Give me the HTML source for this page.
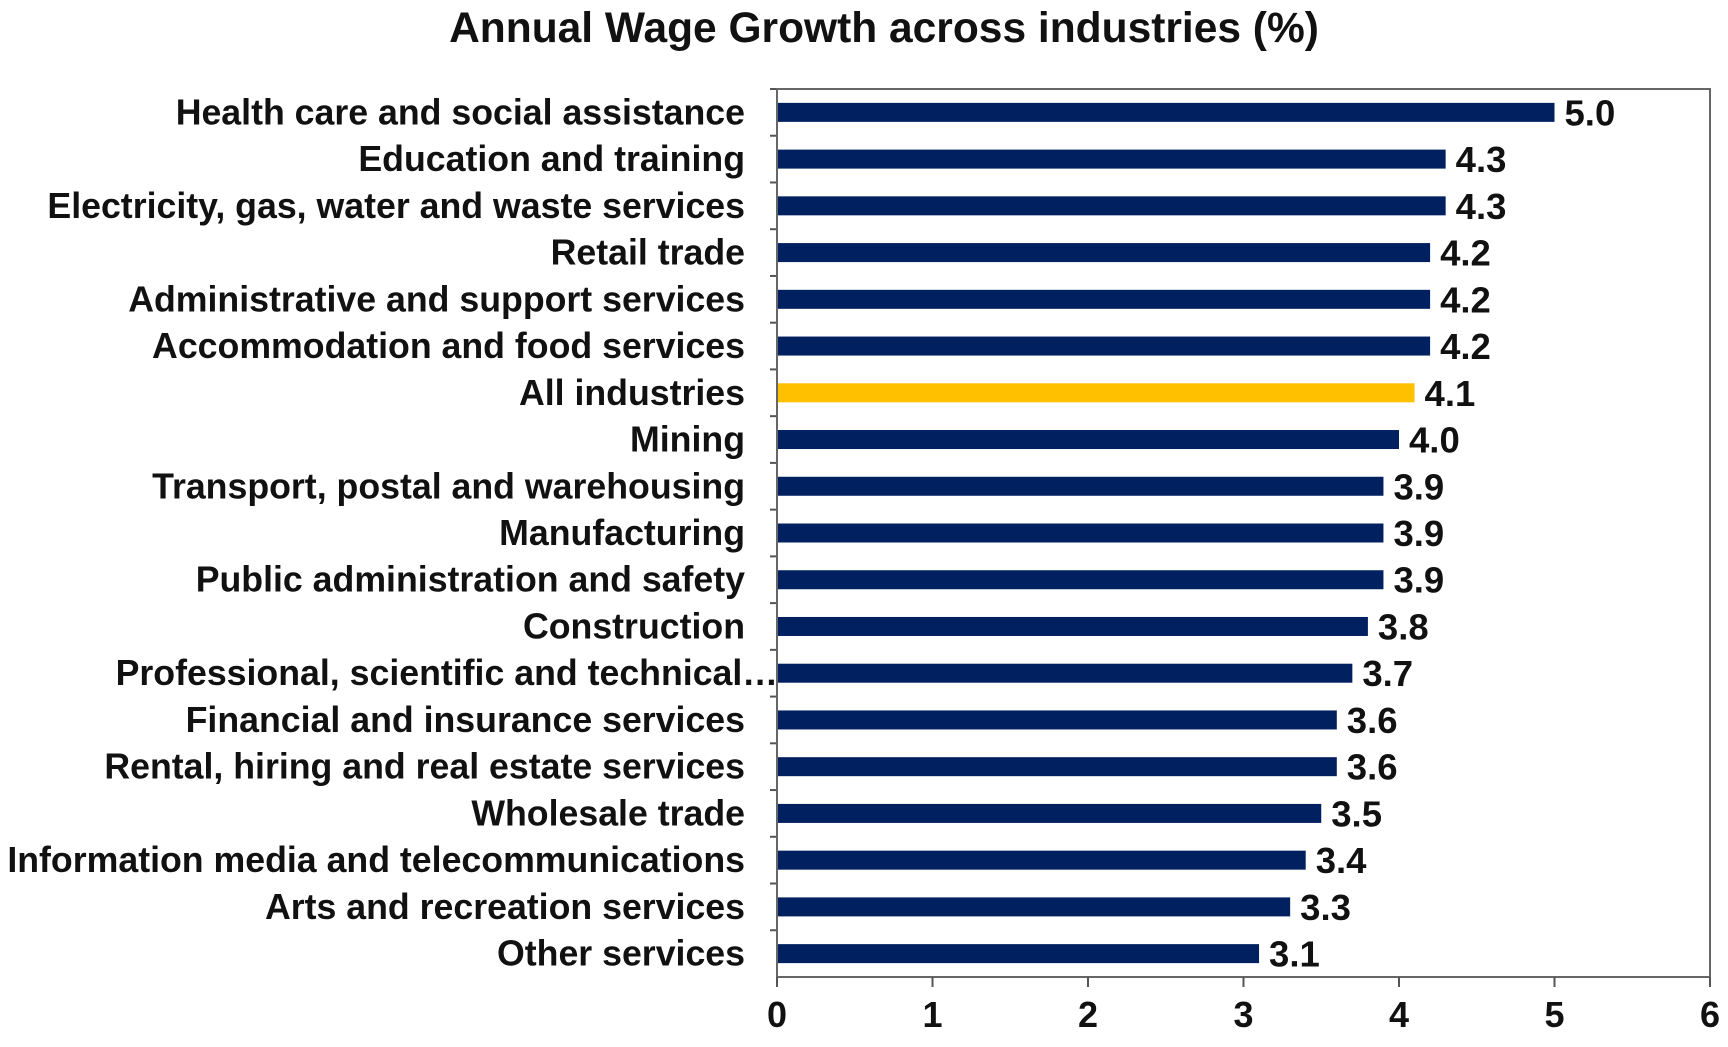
<!DOCTYPE html>
<html><head><meta charset="utf-8"><style>
body{margin:0;background:#fff;}
svg{display:block;font-family:"Liberation Sans",Arial,sans-serif;font-weight:bold;}
</style></head><body>
<svg id="chart" width="1728" height="1047">
<text x="884" y="42" text-anchor="middle" font-size="42.5" fill="#111">Annual Wage Growth across industries (%)</text>
<g id="plot"></g>
</svg>
<script>
const categories=["Health care and social assistance","Education and training","Electricity, gas, water and waste services","Retail trade","Administrative and support services","Accommodation and food services","All industries","Mining","Transport, postal and warehousing","Manufacturing","Public administration and safety","Construction","Professional, scientific and technical…","Financial and insurance services","Rental, hiring and real estate services","Wholesale trade","Information media and telecommunications","Arts and recreation services","Other services"];
const values=[5.0,4.3,4.3,4.2,4.2,4.2,4.1,4.0,3.9,3.9,3.9,3.8,3.7,3.6,3.6,3.5,3.4,3.3,3.1];
const highlight=["All industries"];
const xTicks=[0,1,2,3,4,5,6];
const NS="http://www.w3.org/2000/svg";
const g=document.getElementById('plot');
const x0=777,x1=1710,yTop=89,yBot=977,xmax=6;
const xs=v=>x0+(x1-x0)*v/xmax;
const band=(yBot-yTop)/categories.length;
const yc=i=>yTop+band*(i+0.5);
function mk(t,a){const e=document.createElementNS(NS,t);for(const k in a)e.setAttribute(k,a[k]);g.appendChild(e);return e;}
categories.forEach((c,i)=>{
 const r=mk('rect',{x:x0,y:yc(i)-9.5,width:xs(values[i])-x0,height:19,fill:highlight.includes(c)?'#FFC000':'#002060'});
 
 
 const v=mk('text',{x:xs(values[i])+10,y:yc(i)+13,'font-size':36.5,fill:'#111'});
 v.textContent=values[i].toFixed(1);
 
 
 const l=mk('text',{x:c.endsWith('…')?778:745,y:yc(i)+12,'font-size':35.7,fill:'#111','text-anchor':'end'});
 l.textContent=c;
 
 
 const tk=mk('line',{x1:x0-7,x2:x0,y1:yTop+band*i,y2:yTop+band*i,stroke:'#555','stroke-width':2});
 
 
});
const fr=mk('rect',{x:x0,y:yTop,width:x1-x0,height:yBot-yTop,fill:'none',stroke:'#666','stroke-width':2});


xTicks.forEach(t=>{
 const l=mk('line',{x1:xs(t),x2:xs(t),y1:yBot,y2:yBot+10,stroke:'#555','stroke-width':2});
 
 
 const tx=mk('text',{x:xs(t),y:yBot+50,'font-size':36,'text-anchor':'middle',fill:'#111'});
 tx.textContent=t;
 
 
});
</script>
</body></html>
